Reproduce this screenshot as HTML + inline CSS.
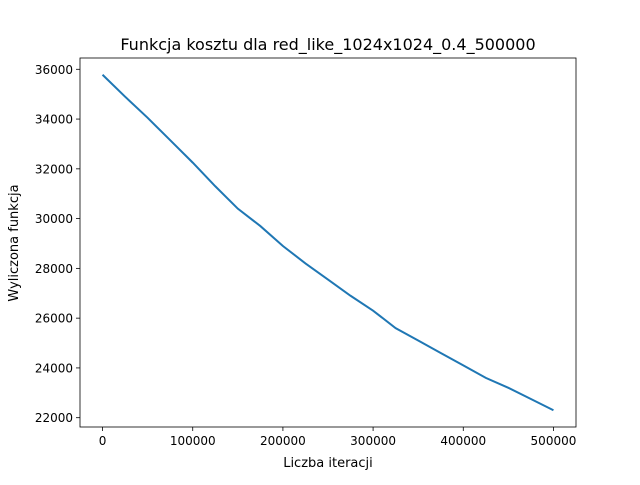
<!DOCTYPE html>
<html><head><meta charset="utf-8"><style>
body{margin:0;background:#fff}
text{font-family:"DejaVu Sans","Liberation Sans",sans-serif;fill:#000}
</style></head><body>
<svg id="chart" width="640" height="480">
<rect width="640" height="480" fill="#fff"/>
<text x="328" y="50" font-size="16" text-anchor="middle">Funkcja kosztu dla red_like_1024x1024_0.4_500000</text>
<g id="axes"></g>
<text x="328" y="467" font-size="13" text-anchor="middle">Liczba iteracji</text>
<text transform="translate(18,243) rotate(-90)" font-size="13" text-anchor="middle">Wyliczona funkcja</text>
</svg>
<script>
const iterations=[0,25000,50000,75000,100000,125000,150000,175000,200000,225000,250000,275000,300000,325000,350000,375000,400000,425000,450000,475000,500000];
const costs=[35780,34900,34050,33150,32250,31300,30400,29700,28900,28200,27550,26900,26300,25600,25100,24600,24100,23600,23200,22750,22300];
const xTicks=[0,100000,200000,300000,400000,500000];
const yTicks=[22000,24000,26000,28000,30000,32000,34000,36000];
const NS="http://www.w3.org/2000/svg";
const L=80,R=576,T=58,B=427;
const xmin=Math.min(...iterations),xmax=Math.max(...iterations),xm=(xmax-xmin)*0.05;
const ymin=Math.min(...costs),ymax=Math.max(...costs),ym=(ymax-ymin)*0.05;
const sx=v=>L+(v-(xmin-xm))/((xmax+xm)-(xmin-xm))*(R-L);
const sy=v=>B-(v-(ymin-ym))/((ymax+ym)-(ymin-ym))*(B-T);
const g=document.getElementById('axes');
function el(t,a){const e=document.createElementNS(NS,t);for(const k in a)e.setAttribute(k,a[k]);g.appendChild(e);return e;}
const line=el('polyline',{points:iterations.map((x,i)=>sx(x)+','+sy(costs[i])).join(' '),fill:'none',stroke:'#1f77b4','stroke-width':2});


const frame=el('rect',{x:L,y:T,width:R-L,height:B-T,fill:'none',stroke:'#000','stroke-width':0.8});


xTicks.forEach(v=>{const x=sx(v);
 el('line',{x1:x,x2:x,y1:B,y2:B+4,stroke:'#000','stroke-width':0.8});
 const t=el('text',{x:x,y:B+18,'font-size':12,'text-anchor':'middle'});t.textContent=v;
 
 });
yTicks.forEach(v=>{const y=sy(v);
 el('line',{x1:L-4,x2:L,y1:y,y2:y,stroke:'#000','stroke-width':0.8});
 const t=el('text',{x:L-7,y:y+4.5,'font-size':12,'text-anchor':'end'});t.textContent=v;
 
 });
</script>
</body></html>
